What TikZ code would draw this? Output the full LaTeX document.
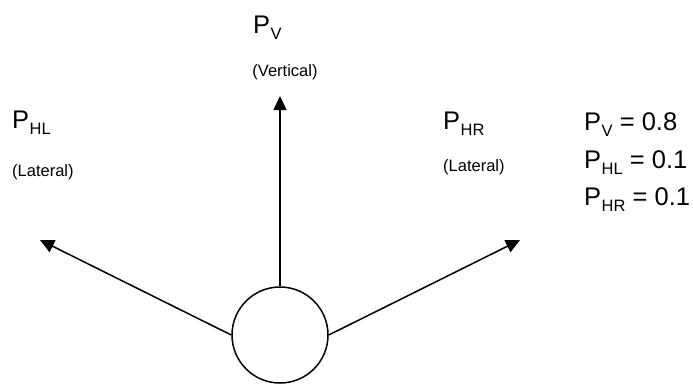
\documentclass[tikz,border=0pt]{standalone}
\usepackage{fontspec}
\setmainfont{Liberation Sans}
\usetikzlibrary{arrows.meta}
\newcommand{\Psub}[1]{P\hspace{0.5pt}\raisebox{-6.5pt}{\fontsize{16.5}{16.5}\selectfont #1}}
\begin{document}
\begin{tikzpicture}[x=1pt,y=-1pt,
  arr/.style={line width=1.5pt,-{Triangle[length=14pt,width=13pt]}},
  big/.style={inner sep=0pt,anchor=base west,font=\fontsize{25.5}{28}\selectfont},
  small/.style={inner sep=0pt,font=\fontsize{16.5}{18}\selectfont}]
\useasboundingbox (0,0) rectangle (693,386);
\node[circle,draw,line width=1.5pt,minimum size=96pt,inner sep=0pt] (c) at (280,335) {};
\coordinate (tv) at (280,96);
\coordinate (tl) at (40,240);
\coordinate (tr) at (520,240);
\draw[arr] (c.north) -- (tv);
\draw[arr] (c.west) -- (tl);
\draw[arr] (c.east) -- (tr);
\node[big] (pv) at (253,33) {\Psub{V}};
\node[small] (vert) at (285,72) {(Vertical)};
\node[big] (phl) at (12,128) {\Psub{HL}};
\node[small,anchor=west] (latl) at (12,172) {(Lateral)};
\node[big] (phr) at (443,129) {\Psub{HR}};
\node[small,anchor=west] (latr) at (443,167) {(Lateral)};
\node[big] (r1) at (584,130) {\Psub{V} = 0.8};
\node[big] (r2) at (584,168) {\Psub{HL} = 0.1};
\node[big] (r3) at (584,205) {\Psub{HR} = 0.1};
\end{tikzpicture}
\end{document}
